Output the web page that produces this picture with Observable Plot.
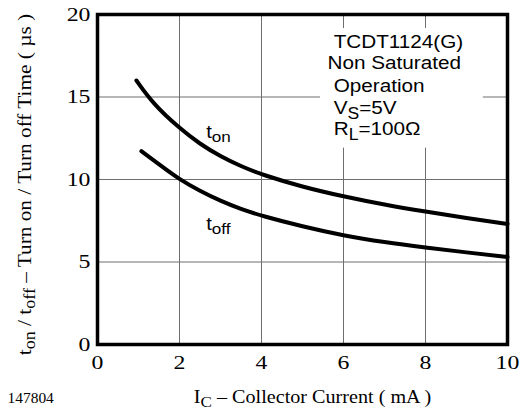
<!DOCTYPE html>
<html>
<head>
<meta charset="utf-8">
<script src="https://cdn.jsdelivr.net/npm/d3@7"></script>
<script src="https://cdn.jsdelivr.net/npm/@observablehq/plot@0.6"></script>
<style>
  html, body { margin: 0; padding: 0; background: #fff; }
</style>
</head>
<body>
<script>
// Collector current (mA) and switching times (µs)
const icOn  = [0.95, 1.35, 2.0, 2.5, 3.0, 3.5, 4.0, 5.0, 6.0, 7.0, 8.0, 9.0, 10.0];
const tOn   = [16.0, 14.6, 13.1, 12.15, 11.4, 10.8, 10.3, 9.55, 8.97, 8.47, 8.05, 7.66, 7.3];
const icOff = [1.07, 1.5, 2.0, 2.5, 3.0, 3.5, 4.0, 5.0, 6.0, 7.0, 8.0, 9.0, 10.0];
const tOff  = [11.72, 10.92, 10.0, 9.3, 8.7, 8.2, 7.8, 7.15, 6.6, 6.2, 5.88, 5.58, 5.3];

const xTicks = [0, 2, 4, 6, 8, 10];
const yTicks = [0, 5, 10, 15, 20];

const curveLabels = ["t_{on}", "t_{off}"];
const curveLabelX = [2.65, 2.65];
const curveLabelY = [12.5, 6.95];

const noteLines = ["TCDT1124(G)", "Non Saturated", "Operation", "V_{S}=5V", "R_{L}=100Ω"];
const noteX = [5.76, 5.61, 5.76, 5.76, 5.76];
const noteY = [17.94, 16.67, 15.3, 13.94, 12.67];
const noteBox = [{x1: 5.44, x2: 9.41, y1: 11.9, y2: 19.15}];

const xLabel = "I_{C} – Collector Current ( mA )";
const yLabel = "t_{on} / t_{off} – Turn on / Turn off Time ( µs )";
const figCode = "147804";

const onData = icOn.map((x, i) => ({x, y: tOn[i]}));
const offData = icOff.map((x, i) => ({x, y: tOff[i]}));
const labelData = curveLabels.map((t, i) => ({t, x: curveLabelX[i], y: curveLabelY[i]}));
const noteData = noteLines.map((t, i) => ({t, x: noteX[i], y: noteY[i]}));

const serif = "'Liberation Serif', 'Times New Roman', serif";
const sans = "'Liberation Sans', Arial, sans-serif";

const svg = Plot.plot({
  width: 523,
  height: 410,
  marginLeft: 97,
  marginRight: 16,
  marginTop: 14,
  marginBottom: 66,
  style: {fontFamily: serif, fontSize: "17px", background: "#fff", color: "#000"},
  x: {domain: [0, 10]},
  y: {domain: [0, 20]},
  marks: [
    Plot.gridX(xTicks, {stroke: "#6e6e6e", strokeOpacity: 1, strokeWidth: 1}),
    Plot.gridY(yTicks, {stroke: "#6e6e6e", strokeOpacity: 1, strokeWidth: 1}),
    Plot.rect(noteBox, {x1: "x1", x2: "x2", y1: "y1", y2: "y2", fill: "#fff"}),
    Plot.axisX({ticks: xTicks, tickSize: 0, tickPadding: 11, label: null, fontSize: 19.5, fontFamily: serif}),
    Plot.axisY({ticks: yTicks, tickSize: 0, tickPadding: 7, label: null, fontSize: 19.5, fontFamily: serif}),
    Plot.line(onData, {x: "x", y: "y", stroke: "#000", strokeWidth: 4, curve: "basis"}),
    Plot.line(offData, {x: "x", y: "y", stroke: "#000", strokeWidth: 4, curve: "basis"}),
    Plot.text(labelData, {x: "x", y: "y", text: "t", textAnchor: "start", lineAnchor: "bottom", fontFamily: sans, fontSize: 18}),
    Plot.text(noteData, {x: "x", y: "y", text: "t", textAnchor: "start", lineAnchor: "bottom", fontFamily: sans, fontSize: 18.5}),
    Plot.text([xLabel], {text: d => d, frameAnchor: "bottom", dx: 10, dy: 58.5, textAnchor: "middle", lineAnchor: "bottom", fontFamily: serif, fontSize: 18}),
    Plot.text([yLabel], {text: d => d, frameAnchor: "left", dx: -73, dy: 5, rotate: -90, textAnchor: "middle", lineAnchor: "middle", fontFamily: serif, fontSize: 19}),
    Plot.text([figCode], {text: d => d, frameAnchor: "bottom-left", dx: -90, dy: 58.5, textAnchor: "start", lineAnchor: "bottom", fontFamily: serif, fontSize: 15}),
    Plot.frame({stroke: "#000", strokeWidth: 3.5})
  ]
});

// Turn "_{...}" markers into real subscripts
function subscriptify(root) {
  const ns = "http://www.w3.org/2000/svg";
  root.querySelectorAll("text").forEach(t => {
    const tspans = t.querySelectorAll("tspan");
    const targets = tspans.length ? Array.from(tspans) : [t];
    targets.forEach(el => {
      const s = el.textContent;
      if (!s.includes("_{")) return;
      el.textContent = "";
      const fs = parseFloat(getComputedStyle(el).fontSize) || 17;
      const shift = +(fs * 0.22).toFixed(1);
      const re = /_\{([^}]*)\}/g;
      let last = 0, m, shifted = false;
      const addNormal = str => {
        const ts = document.createElementNS(ns, "tspan");
        if (shifted) { ts.setAttribute("dy", -shift); shifted = false; }
        ts.textContent = str;
        el.appendChild(ts);
      };
      while ((m = re.exec(s))) {
        if (m.index > last) addNormal(s.slice(last, m.index));
        const sub = document.createElementNS(ns, "tspan");
        sub.setAttribute("dy", shift);
        sub.setAttribute("font-size", +(fs * 0.85).toFixed(1));
        sub.textContent = m[1];
        el.appendChild(sub);
        shifted = true;
        last = re.lastIndex;
      }
      if (last < s.length) addNormal(s.slice(last));
    });
  });
}

// The reference lettering is slightly wide: stretch each text along its own baseline
function widen(root) {
  root.querySelectorAll("text").forEach(t => {
    const tr = t.getAttribute("transform");
    if (!tr) return;
    let sx = 1.12;
    if (t.closest('g[aria-label$="tick label"]')) sx = 1.22;
    if (t.textContent === figCode) sx = 1.03;
    t.setAttribute("transform", tr + ` scale(${sx},1)`);
  });
}

document.body.appendChild(svg);
subscriptify(svg);
widen(svg);
</script>
</body>
</html>
